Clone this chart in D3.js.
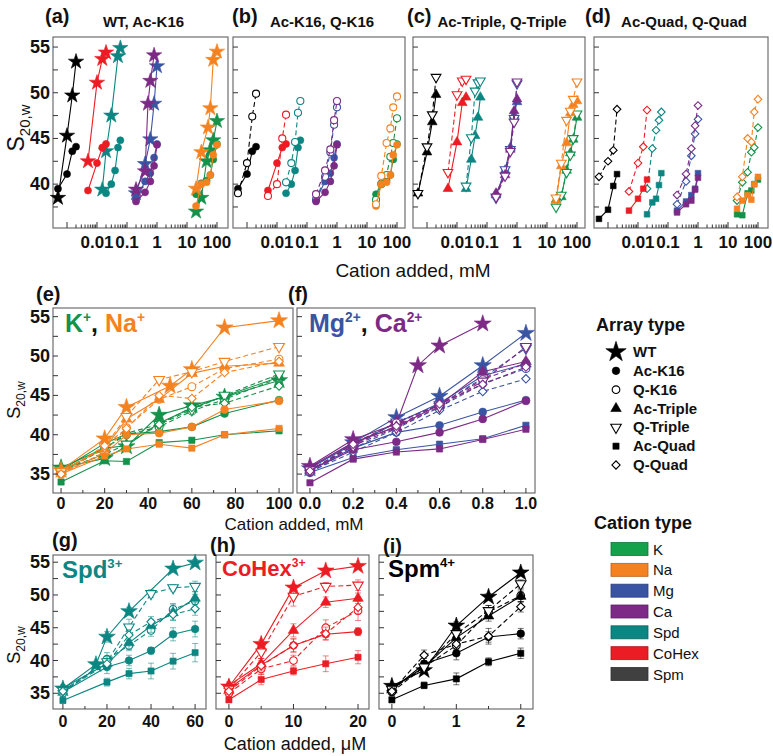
<!DOCTYPE html>
<html><head><meta charset="utf-8">
<script src="https://cdn.jsdelivr.net/npm/d3@7"></script>
<style>body{margin:0;background:#fff}svg{display:block}</style>
</head><body>
<svg id="chart" width="773" height="756"></svg>
<script>
// ---------------- DATA ----------------
const arrayTypes = ["WT","Ac-K16","Q-K16","Ac-Triple","Q-Triple","Ac-Quad","Q-Quad"];
const cationTypes = ["K","Na","Mg","Ca","Spd","CoHex","Spm"];
const legendColors = ["#13a14b","#f58220","#3a54a4","#7c2a86","#0b8682","#ec1c24","#404040"];
const plotColors   = ["#14914a","#f58220","#3a54a4","#7c2a86","#0b8682","#ec1c24","#000000"];

// concentrations: K, Na, Mg, Ca in mM; Spd, CoHex, Spm in µM
const K_conc = [0,20,30,45,60,75,100];
const Na_conc = [0,20,30,45,60,75,100];
const Na_WT_conc = [0,20,30,50,60,75,100];
const Mg_conc = [0,0.2,0.4,0.6,0.8,1.0];
const Ca_conc = [0,0.2,0.4,0.6,0.8,1.0];
const Ca_WT_conc = [0,0.2,0.4,0.5,0.6,0.8];
const Spd_conc = [0,20,30,40,50,60];
const Spd_WT_conc = [0,15,20,30,50,60];
const CoHex_conc = [0,5,10,15,20];
const Spm_conc = [0,0.5,1,1.5,2];

// s20,w values, rows in arrayTypes order
const K_vals = [
  [35.8,37.0,38.5,42.5,43.7,44.8,46.9],
  [35.5,38.9,40.1,40.4,41.0,42.7,44.4],
  [35.3,38.3,40.0,41.0,43.0,44.5,47.2],
  [35.8,38.3,38.6,41.5,43.4,44.9,47.3],
  [35.5,37.5,38.8,41.3,43.2,45.0,47.7],
  [34.0,36.7,36.6,39.0,39.3,40.0,40.5],
  [35.3,38.2,40.2,41.3,43.5,44.0,46.2]];
const Na_vals = [
  [35.5,39.5,43.5,46.2,48.3,53.6,54.5],
  [35.2,37.6,40.0,40.2,41.0,43.2,44.3],
  [35.0,37.8,40.9,44.5,46.1,48.4,49.6],
  [35.5,38.2,42.0,44.5,47.8,48.7,49.1],
  [35.3,38.5,42.3,47.0,48.0,49.3,51.2],
  [35.0,37.3,38.2,38.8,38.3,40.0,40.8],
  [35.0,38.6,40.8,45.0,44.6,47.9,49.3]];
const Mg_vals = [
  [35.7,39.0,42.2,44.9,48.8,52.9],
  [35.5,38.3,40.3,41.2,42.9,44.4],
  [35.2,38.3,40.8,43.5,46.5,48.4],
  [35.8,38.8,41.5,44.0,47.5,49.0],
  [35.5,38.5,41.6,43.8,47.2,51.0],
  [35.2,37.1,38.1,38.8,39.5,41.2],
  [35.3,37.8,40.3,43.1,45.5,47.1]];
const Ca_vals = [
  [36.0,39.4,41.4,48.8,51.3,54.1],
  [35.5,38.1,39.1,40.3,42.0,44.3],
  [35.3,38.9,41.5,43.8,47.0,49.1],
  [35.9,39.0,41.0,43.8,48.0,49.3],
  [35.5,38.6,40.9,43.6,46.8,51.2],
  [33.9,36.9,37.8,38.2,39.4,40.7],
  [35.4,38.8,41.1,43.9,46.4,48.6]];
const Spd_vals = [
  [35.7,39.4,43.6,47.5,54.0,54.9],
  [35.2,39.0,40.0,41.5,44.0,44.8],
  [35.0,40.2,42.3,44.6,47.8,49.1],
  [35.8,39.5,42.7,45.3,47.3,49.5],
  [35.4,39.8,45.1,50.2,51.1,51.3],
  [33.9,36.7,38.0,38.4,39.9,41.2],
  [35.3,39.5,43.9,45.9,47.0,47.9]];
const CoHex_vals = [
  [36.0,42.5,51.1,53.7,54.4],
  [35.7,39.3,42.3,44.0,44.4],
  [35.0,38.7,40.0,45.0,47.6],
  [36.2,39.5,44.6,48.9,49.5],
  [35.6,41.3,49.8,51.3,51.5],
  [34.0,37.1,38.4,39.5,40.5],
  [35.3,39.2,42.3,44.1,48.1]];
const Spm_vals = [
  [36.1,38.5,45.3,49.7,53.4],
  [35.5,39.5,41.1,43.6,44.1],
  [35.2,39.0,42.3,47.4,49.9],
  [35.8,39.0,43.5,46.8,49.8],
  [35.6,39.0,44.1,47.6,51.7],
  [34.0,36.2,37.2,39.8,41.1],
  [35.3,40.8,42.5,43.7,48.2]];

// error bars (bottom panels)
const Spd_err = [
  [0.5,0.5,0.8,0.6,0.5,0.5],[0.5,1.0,0.8,0.5,1.0,1.2],[0.5,1.0,0.8,0.9,0.9,1.0],
  [0.5,0.8,1.0,1.0,1.2,1.0],[0.5,0.8,1.2,0.6,0.5,0.8],[0.4,0.6,0.8,1.2,1.2,1.4],
  [0.5,0.8,0.8,0.8,0.8,1.0]];
const CoHex_err = [
  [0.5,0.6,0.5,0.5,0.4],[0.5,1.0,1.0,0.8,0.6],[0.5,0.8,0.8,1.2,1.5],
  [0.5,0.8,1.0,0.8,0.8],[0.5,1.0,1.5,0.6,0.8],[0.4,0.8,0.6,1.2,1.0],
  [0.5,0.8,1.0,1.0,1.0]];
const Spm_err = [
  [0.4,0.5,0.6,0.5,0.5],[0.5,0.8,1.0,0.8,0.8],[0.5,0.8,0.8,1.0,1.0],
  [0.5,0.8,0.8,0.8,0.8],[0.5,0.6,0.8,0.8,0.6],[0.4,0.5,0.9,0.6,0.8],
  [0.5,0.8,0.8,1.2,0.8]];

const yTickValues = [35,40,45,50,55];
const topYTickValues = [40,45,50,55];
const topTickLabels = ["0.01","0.1","1","10","100"];
const topTitles = ["WT, Ac-K16","Ac-K16, Q-K16","Ac-Triple, Q-Triple","Ac-Quad, Q-Quad"];
const topLetters = ["(a)","(b)","(c)","(d)"];
const topPanelTypes = [[0,1],[1,2],[3,4],[5,6]];
const e_ticks = [0,20,40,60,80,100];
const f_ticks = [0.0,0.2,0.4,0.6,0.8,1.0];
const g_ticks = [0,20,40,60];
const h_ticks = [0,10,20];
const i_ticks = [0,1,2];

// ---------------- HELPERS ----------------
const svg = d3.select("#chart");
const NARROW = "'Liberation Sans Narrow','Arial Narrow','Liberation Sans',sans-serif";
const SANS = "'Liberation Sans',Arial,sans-serif";
const FRAME = "#6e6e6e";

const cations = [
  {conc:K_conc, wt:K_conc, vals:K_vals, toMM:1},
  {conc:Na_conc, wt:Na_WT_conc, vals:Na_vals, toMM:1},
  {conc:Mg_conc, wt:Mg_conc, vals:Mg_vals, toMM:1},
  {conc:Ca_conc, wt:Ca_WT_conc, vals:Ca_vals, toMM:1},
  {conc:Spd_conc, wt:Spd_WT_conc, vals:Spd_vals, err:Spd_err, toMM:0.001},
  {conc:CoHex_conc, wt:CoHex_conc, vals:CoHex_vals, err:CoHex_err, toMM:0.001},
  {conc:Spm_conc, wt:Spm_conc, vals:Spm_vals, err:Spm_err, toMM:0.001}];

function pointsOf(ci, ti) {
  const c = cations[ci];
  const xs = ti === 0 ? c.wt : c.conc;
  return c.vals[ti].map((v, i) => ({x: xs[i], y: v, e: c.err ? c.err[ti][i] : 0}));
}

const symTypes = [d3.symbolStar, d3.symbolCircle, d3.symbolCircle, d3.symbolTriangle, d3.symbolTriangle, d3.symbolSquare, d3.symbolSquare];
const symSizes = [86, 46, 46, 48, 48, 38, 34];
const symRot = [0,0,0,0,180,0,45];
const symOpen = [false,false,true,false,true,false,true];
function marker(g, ti, x, y, color, s) {
  g.append("path").attr("d", d3.symbol().type(symTypes[ti]).size(symSizes[ti]*s)())
    .attr("transform", `translate(${x},${y}) rotate(${symRot[ti]})`)
    .attr("fill", symOpen[ti] ? "#fff" : color)
    .attr("stroke", color).attr("stroke-width", symOpen[ti] ? 1.1 : 0.6);
}

function drawSeries(g, pts, xs, ys, color, ti, s, withErr) {
  const dashed = symOpen[ti];
  g.append("path").attr("d", d3.line().x(d => xs(d.x)).y(d => ys(d.y))(pts))
    .attr("fill","none").attr("stroke", color).attr("stroke-width", 1.1)
    .attr("stroke-dasharray", dashed ? "5,3" : null);
  if (withErr) {
    pts.forEach(d => {
      if (!d.e) return;
      const x = xs(d.x), y1 = ys(d.y - d.e), y2 = ys(d.y + d.e);
      const eg = g.append("g").attr("stroke", color).attr("stroke-opacity", 0.55).attr("stroke-width", 1);
      eg.append("line").attr("x1",x).attr("x2",x).attr("y1",y1).attr("y2",y2);
      eg.append("line").attr("x1",x-3).attr("x2",x+3).attr("y1",y1).attr("y2",y1);
      eg.append("line").attr("x1",x-3).attr("x2",x+3).attr("y1",y2).attr("y2",y2);
    });
  }
  pts.forEach(d => marker(g, ti, xs(d.x), ys(d.y), color, s));
}

function frame(x0, y0, x1, y1) {
  svg.append("rect").attr("x", x0).attr("y", y0).attr("width", x1 - x0).attr("height", y1 - y0)
    .attr("fill","none").attr("stroke", FRAME).attr("stroke-width", 1.2);
}
function tickX(xs, y1, v, len) {
  svg.append("line").attr("x1", xs(v)).attr("x2", xs(v)).attr("y1", y1).attr("y2", y1 - len)
    .attr("stroke", "#333").attr("stroke-width", 1);
}
function tickY(ys, x0, v, len) {
  svg.append("line").attr("x1", x0).attr("x2", x0 + len).attr("y1", ys(v)).attr("y2", ys(v))
    .attr("stroke", "#333").attr("stroke-width", 1);
}
function label(x, y, txt, size, opts = {}) {
  return svg.append("text").attr("x", x).attr("y", y).text(txt)
    .attr("font-family", opts.family || NARROW).attr("font-size", size)
    .attr("font-weight", opts.weight || "bold").attr("text-anchor", opts.anchor || "middle")
    .attr("fill", opts.fill || "#111");
}
function yTitle(x, y, sS, sSub) {
  const t = svg.append("text").attr("transform", `translate(${x},${y}) rotate(-90)`)
    .attr("text-anchor", "middle").attr("font-family", SANS).attr("font-size", sS).attr("fill", "#111");
  t.append("tspan").attr("font-size", sS).text("S");
  t.append("tspan").attr("font-size", sSub).attr("dy", sSub * 0.4).text("20,w");
}
function richLabel(x, y, parts, size) {
  const t = svg.append("text").attr("x", x).attr("y", y).attr("font-family", NARROW)
    .attr("font-weight", "bold").attr("font-size", size);
  let raised = false;
  parts.forEach(p => {
    const ts = t.append("tspan").attr("fill", p.c).text(p.t);
    if (p.sup) { ts.attr("font-size", size * 0.55).attr("dy", -size * 0.42); raised = true; }
    else { ts.attr("font-size", size); if (raised) { ts.attr("dy", size * 0.42); raised = false; } }
  });
}

// ---------------- TOP PANELS (log x) ----------------
const topFrames = [[53,228],[233,405],[413,585],[594,768]];
const topLetterX = [45,232,407,585];
const topY0 = 37, topY1 = 228;
const topYs = d3.scaleLinear().domain([35.2, 56.1]).range([topY1, topY0]);
const PX_PER_DEC = 30, OFFSET_1MM = 104;

topFrames.forEach(([x0, x1], p) => {
  const w = x1 - x0;
  const xs = d3.scaleLog()
    .domain([Math.pow(10, -OFFSET_1MM / PX_PER_DEC), Math.pow(10, (w - OFFSET_1MM) / PX_PER_DEC)])
    .range([x0, x1]);
  frame(x0, topY0, x1, topY1);
  const g = svg.append("g");
  cationTypes.forEach((c, ci) => {
    topPanelTypes[p].forEach(ti => {
      const pts = pointsOf(ci, ti).filter(d => d.x > 0).map(d => ({x: d.x * cations[ci].toMM, y: d.y}));
      drawSeries(g, pts, xs, topYs, plotColors[ci], ti, 0.85, false);
    });
  });
  for (let d = -3; d <= 2; d++) {
    for (let k = 1; k <= 9; k++) {
      if (d === 2 && k > 1) break;
      tickX(xs, topY1, k * Math.pow(10, d), k === 1 ? 6 : 3.5);
    }
  }
  topTickLabels.forEach(t => label(xs(+t), 248, t, 17));
  d3.range(37.5, 56, 2.5).forEach(v => tickY(topYs, x0, v, 5));
  if (p === 0) topYTickValues.forEach(v => label(x0 - 3, topYs(v) + 6, v, 18, {anchor: "end"}));
  label(topLetterX[p], 23, topLetters[p], 20, {family: SANS, anchor: "start"});
  label((x0 + x1) / 2 + 3, 27, topTitles[p], 15);
});
label(413, 277, "Cation added, mM", 19, {family: SANS, weight: "normal"});
yTitle(24, 128, 23, 15);

// ---------------- MIDDLE / BOTTOM PANELS ----------------
function linPanel(cfg) {
  const xs = d3.scaleLinear().domain(cfg.xdom).range([cfg.x0, cfg.x1]);
  const ys = d3.scaleLinear().domain([32.6, 56.1]).range([cfg.y1, cfg.y0]);
  frame(cfg.x0, cfg.y0, cfg.x1, cfg.y1);
  const g = svg.append("g");
  cfg.cats.forEach(ci => {
    arrayTypes.forEach((a, ti) => {
      drawSeries(g, pointsOf(ci, ti), xs, ys, plotColors[ci], ti, cfg.s, cfg.err);
    });
  });
  cfg.ticks.forEach((v, i) => {
    tickX(xs, cfg.y1, v, 5);
    if (i < cfg.ticks.length - 1) tickX(xs, cfg.y1, (v + cfg.ticks[i + 1]) / 2, 3);
    label(xs(v), cfg.y1 + cfg.labOff, cfg.fmt ? cfg.fmt(v) : v, 16);
  });
  d3.range(35, 56, 2.5).forEach(v => tickY(ys, cfg.x0, v, 5));
  if (cfg.yLabels) yTickValues.forEach(v => label(cfg.x0 - 3, ys(v) + 6, v, 18, {anchor: "end"}));
}

linPanel({x0:53, x1:293, y0:308, y1:493, xdom:[-3.7,106.4], cats:[0,1], ticks:e_ticks, s:1.05, err:false, yLabels:true, labOff:16});
linPanel({x0:297, x1:535, y0:308, y1:493, xdom:[-0.06,1.042], cats:[2,3], ticks:f_ticks, s:1.05, err:false, yLabels:false, labOff:16, fmt:d3.format(".1f")});
linPanel({x0:53, x1:206, y0:555, y1:709, xdom:[-4.5,64.95], cats:[4], ticks:g_ticks, s:1.0, err:true, yLabels:true, labOff:18});
linPanel({x0:216, x1:369, y0:555, y1:709, xdom:[-2.0,21.7], cats:[5], ticks:h_ticks, s:1.0, err:true, yLabels:false, labOff:18});
linPanel({x0:379, x1:533, y0:555, y1:709, xdom:[-0.2,2.19], cats:[6], ticks:i_ticks, s:1.0, err:true, yLabels:false, labOff:18});

label(36, 301, "(e)", 20, {family: SANS, anchor: "start"});
label(288, 301, "(f)", 20, {family: SANS, anchor: "start"});
label(52, 547, "(g)", 20, {family: SANS, anchor: "start"});
label(210, 552, "(h)", 20, {family: SANS, anchor: "start"});
label(383, 553, "(i)", 20, {family: SANS, anchor: "start"});
label(294, 530, "Cation added, mM", 17, {family: SANS, weight: "normal"});
label(295, 750, "Cation added, \u03bcM", 18, {family: SANS, weight: "normal"});
yTitle(20, 400, 18, 12);
yTitle(20, 645, 18, 12);

richLabel(65, 332, [{t:"K", c:plotColors[0]},{t:"+", c:plotColors[0], sup:true},{t:", ", c:"#111"},{t:"Na", c:plotColors[1]},{t:"+", c:plotColors[1], sup:true}], 25);
richLabel(309, 332, [{t:"Mg", c:plotColors[2]},{t:"2+", c:plotColors[2], sup:true},{t:", ", c:"#111"},{t:"Ca", c:plotColors[3]},{t:"2+", c:plotColors[3], sup:true}], 25);
richLabel(62, 578, [{t:"Spd", c:plotColors[4]},{t:"3+", c:plotColors[4], sup:true}], 24);
richLabel(222, 576, [{t:"CoHex", c:plotColors[5]},{t:"3+", c:plotColors[5], sup:true}], 22);
richLabel(388, 577, [{t:"Spm", c:plotColors[6]},{t:"4+", c:plotColors[6], sup:true}], 24);

// ---------------- LEGENDS ----------------
label(596, 331, "Array type", 18, {anchor: "start"});
const legY = d3.scaleLinear().domain([0, 6]).range([352, 465]);
arrayTypes.forEach((a, ti) => {
  marker(svg, ti, 616, legY(ti), "#000", ti === 0 ? 1.5 : 1.0);
  label(633, legY(ti) + 5, a, 15, {anchor: "start"});
});
label(594, 529, "Cation type", 18, {anchor: "start"});
const legY2 = d3.scaleLinear().domain([0, 6]).range([549, 674]);
cationTypes.forEach((c, ci) => {
  svg.append("rect").attr("x", 611).attr("y", legY2(ci) - 6.5).attr("width", 37).attr("height", 13)
    .attr("fill", legendColors[ci]).attr("stroke", d3.color(legendColors[ci]).darker(0.8)).attr("stroke-width", 0.8);
  label(653, legY2(ci) + 5.5, c, 15, {anchor: "start", weight: "normal"});
});
</script>
</body></html>
